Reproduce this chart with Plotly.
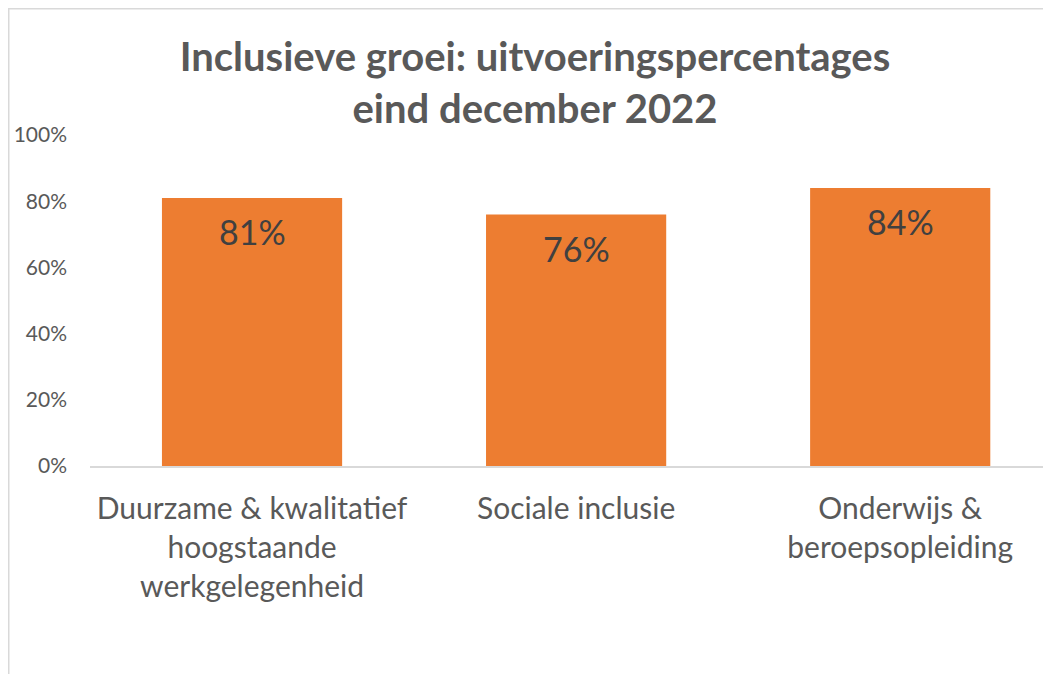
import plotly.graph_objects as go

categories = ["Duurzame & kwalitatief<br>hoogstaande<br>werkgelegenheid",
              "Sociale inclusie",
              "Onderwijs &<br>beroepsopleiding"]
values = [0.81, 0.76, 0.84]
y_ticks = [0, 0.2, 0.4, 0.6, 0.8, 1.0]
title_text = "Inclusieve groei: uitvoeringspercentages<br>eind december 2022"

W, H = 1051, 674
ml, mr, mt, mb = 82, 0, 127, 216
pw, ph = W - ml - mr, H - mt - mb

fig = go.Figure()
fig.add_trace(go.Bar(
    x=categories, y=values,
    marker=dict(color="#ED7D31", line=dict(width=0)),
    width=0.556,
    hoverinfo="skip",
))

for c, v in zip(categories, values):
    fig.add_annotation(x=c, y=v, text=f"{round(v*100)}%", showarrow=False,
                       yanchor="middle", yshift=-34,
                       font=dict(family="Lato", size=34, color="#404040"))

def px_x(p):
    return (p - ml) / pw

def px_y(p):
    return (H - mb - p) / ph

frame = dict(color="#D9D9D9", width=1.5)
fig.add_shape(type="line", xref="paper", yref="paper",
              x0=px_x(0.75), x1=px_x(0.75), y0=px_y(0), y1=px_y(H + 5), line=frame)
fig.add_shape(type="line", xref="paper", yref="paper",
              x0=px_x(0), x1=px_x(W + 5), y0=px_y(0.75), y1=px_y(0.75), line=frame)

fig.update_layout(
    width=W, height=H,
    margin=dict(l=ml, r=mr, t=mt, b=mb),
    paper_bgcolor="white", plot_bgcolor="white",
    showlegend=False,
    bargap=0.444,
    title=dict(text=title_text, x=(535 - 8) / W, xanchor="center",
               y=1 - 63 / H, yanchor="middle", yref="container",
               font=dict(family="Lato", size=40, color="#595959", weight="bold")),
    xaxis=dict(range=[-0.5, 2.49], showline=True, linecolor="#D9D9D9", linewidth=2,
               ticks="", showgrid=False, ticklabelstandoff=15,
               tickfont=dict(family="Lato", size=30, color="#595959")),
    yaxis=dict(range=[0, 1], tickvals=y_ticks, tickformat=".0%", showgrid=False,
               zeroline=False, showline=False, ticks="", ticklabelstandoff=22,
               tickfont=dict(family="Lato", size=21, color="#595959")),
)

fig.write_html("out.html")
